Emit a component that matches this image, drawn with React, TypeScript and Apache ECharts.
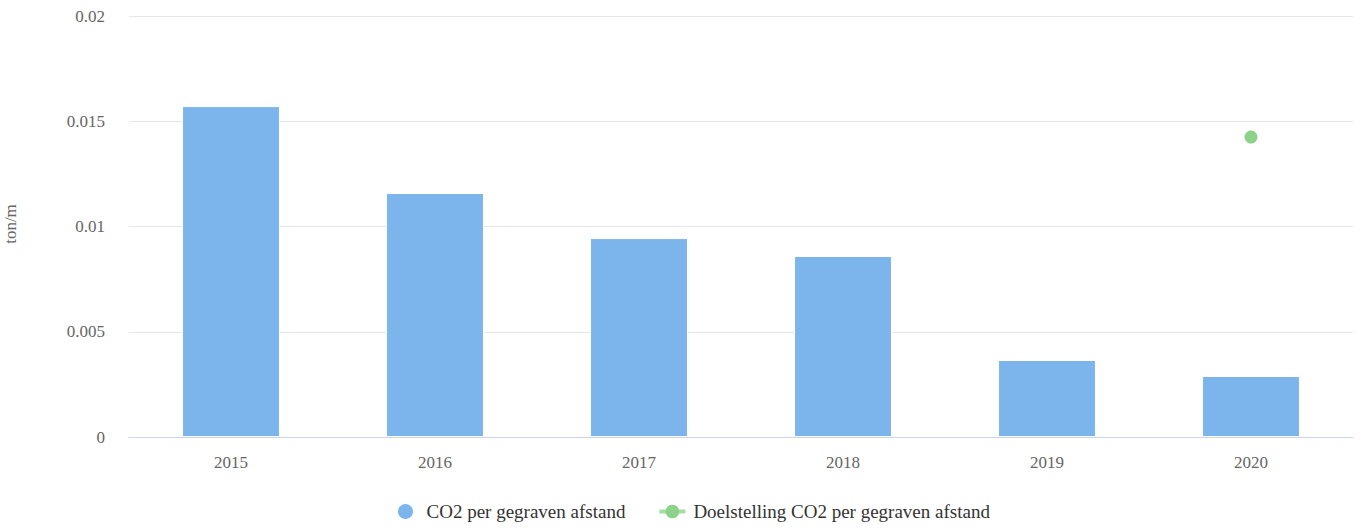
import React, { useEffect, useRef } from "react";
import * as echarts from "echarts";

const categories = ["2015", "2016", "2017", "2018", "2019", "2020"];
const co2Values = [0.01572, 0.01159, 0.00945, 0.0086, 0.00366, 0.0029];
const goalValues = [null, null, null, null, null, 0.01425];
const yTicks = [0, 0.005, 0.01, 0.015, 0.02];
const seriesNames = ["CO2 per gegraven afstand", "Doelstelling CO2 per gegraven afstand"];
const yTitle = "ton/m";

export default function App() {
  const ref = useRef<HTMLDivElement>(null);
  useEffect(() => {
    const chart = echarts.init(ref.current!, null, { renderer: "svg" });
    const font = "'Liberation Serif', 'Times New Roman', serif";
    chart.setOption({
      animation: false,
      textStyle: { fontFamily: font },
      grid: { left: 129, right: 8, top: 16, bottom: 91, containLabel: false },
      legend: {
        bottom: 2,
        left: 391,
        itemGap: 32,
        itemWidth: 26,
        itemHeight: 17,
        textStyle: { fontFamily: font, fontSize: 19, color: "#333", padding: [0, 0, 0, 3] },
        data: [
          { name: seriesNames[0], icon: "circle" },
          {
            name: seriesNames[1],
            lineStyle: { width: 4, color: "#a3dd9f" },
            itemStyle: { color: "#8dd28a" },
          },
        ],
      },
      xAxis: {
        type: "category",
        data: categories,
        axisLine: { lineStyle: { color: "#ccd6eb" } },
        axisTick: { show: false },
        axisLabel: { color: "#666", fontSize: 17, margin: 17, fontFamily: font },
      },
      yAxis: {
        type: "value",
        min: yTicks[0],
        max: yTicks[yTicks.length - 1],
        interval: yTicks[1] - yTicks[0],
        axisLabel: {
          color: "#666",
          fontSize: 17,
          margin: 24,
          fontFamily: font,
          formatter: (v: number) => String(parseFloat(v.toPrecision(6))),
        },
        splitLine: { lineStyle: { color: "#e6e6e6" } },
        axisLine: { show: false },
        axisTick: { show: false },
      },
      graphic: [
        {
          type: "text",
          x: 10,
          y: 224,
          rotation: Math.PI / 2,
          style: {
            text: yTitle,
            fill: "#666",
            font: `17px ${font}`,
            align: "center",
            verticalAlign: "middle",
          },
        },
      ],
      series: [
        {
          name: seriesNames[0],
          type: "bar",
          data: co2Values,
          barWidth: "48%",
          itemStyle: { color: "#7cb5ec", borderColor: "#ffffff", borderWidth: 1 },
        },
        {
          name: seriesNames[1],
          type: "line",
          data: goalValues,
          symbol: "circle",
          symbolSize: 13,
          showSymbol: true,
          lineStyle: { color: "#8dd28a", width: 3 },
          itemStyle: { color: "#8dd28a" },
        },
      ],
    });
    return () => chart.dispose();
  }, []);
  return <div ref={ref} style={{ width: 1361, height: 528, position: "absolute", left: 0, top: 0 }} />;
}
